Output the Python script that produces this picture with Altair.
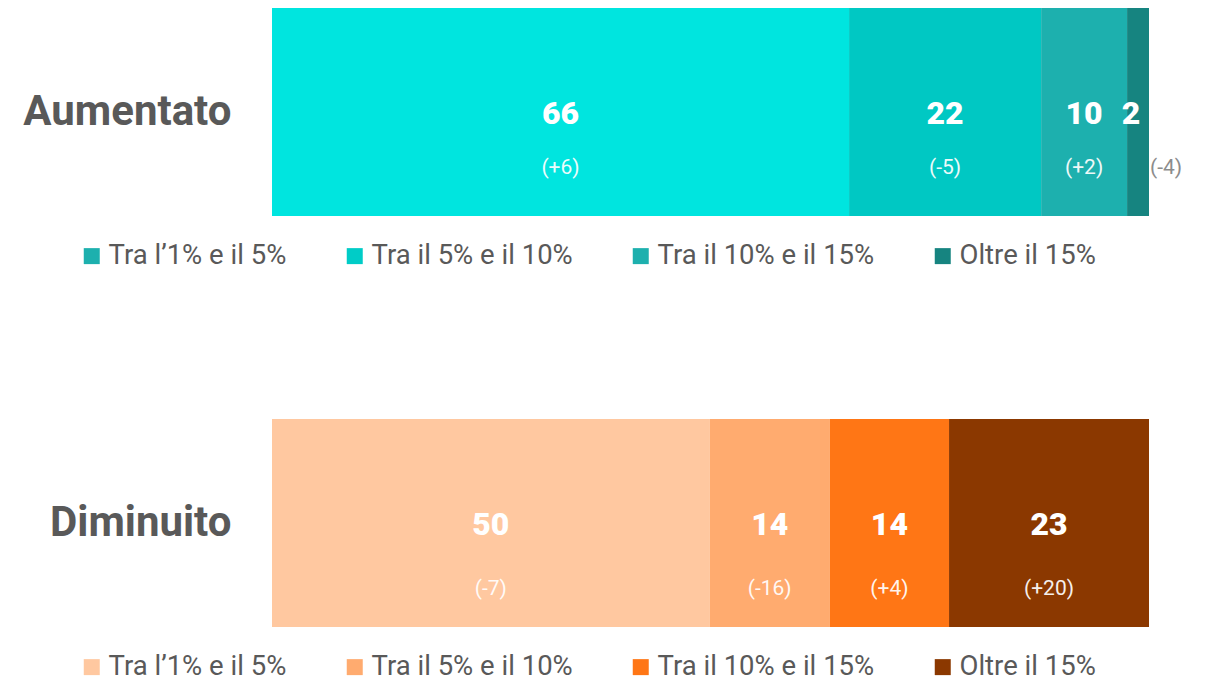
import altair as alt
import pandas as pd

rows = ["Aumentato", "Diminuito"]
categories = ["Tra l’1% e il 5%", "Tra il 5% e il 10%", "Tra il 10% e il 15%", "Oltre il 15%"]
# shown (rounded) labels
top_values = [66, 22, 10, 2]
bottom_values = [50, 14, 14, 23]
# underlying shares
top_shares = [65.8, 21.9, 9.8, 2.5]
bottom_shares = [49.9, 13.7, 13.6, 22.8]
top_deltas = ["(+6)", "(-5)", "(+2)", "(-4)"]
bottom_deltas = ["(-7)", "(-16)", "(+4)", "(+20)"]

top_bar_colors = ["#00E5DF", "#00C8C3", "#1DB0AE", "#168480"]
top_legend_colors = ["#1DB0AE", "#00CCC7", "#1DB0AE", "#168480"]
bottom_colors = ["#FFC8A0", "#FFAB6F", "#FF7615", "#8B3800"]

FONT = "Roboto"
GREY = "#595959"


def make(row, values, shares, deltas, bar_colors, legend_colors, delta_dy):
    df = pd.DataFrame({
        "row": [row] * len(categories),
        "cat": categories,
        "order": list(range(len(categories))),
        "value": values,
        "share": shares,
        "delta": deltas,
    })
    base = alt.Chart(df).transform_stack(
        stack="share", groupby=["row"],
        sort=[alt.SortField(field="order", order="ascending")],
        offset="normalize", as_=["x0", "x1"],
    ).transform_calculate(mid="(datum.x0 + datum.x1) / 2")

    xs = alt.Scale(domain=[0, 1], nice=False, zero=False)
    y = alt.Y("row:N", title=None,
              scale=alt.Scale(paddingInner=0, paddingOuter=0),
              axis=alt.Axis(domain=False, ticks=False, labelFont=FONT,
                            labelFontSize=42, labelFontWeight="bold",
                            labelColor=GREY, labelPadding=41, labelLimit=400))

    bars = base.mark_bar().encode(
        x=alt.X("x0:Q", scale=xs, axis=None),
        x2="x1:Q",
        y=y,
        color=alt.Color("order:O", scale=alt.Scale(domain=[0, 1, 2, 3], range=bar_colors), legend=None),
    )
    big = base.transform_filter("datum.value >= 5")
    small = base.transform_filter("datum.value < 5")

    nums = big.mark_text(font=FONT, fontSize=32, fontWeight=900, color="white", dy=2).encode(
        x=alt.X("mid:Q", scale=xs), y=y, text="value:Q")
    dels = big.mark_text(font=FONT, fontSize=21, color="white", opacity=0.92, dy=delta_dy).encode(
        x=alt.X("mid:Q", scale=xs), y=y, text="delta:N")
    nums_s = small.mark_text(font=FONT, fontSize=32, fontWeight=900, color="white", dy=2, dx=-7).encode(
        x=alt.X("mid:Q", scale=xs), y=y, text="value:Q")
    dels_s = small.mark_text(font=FONT, fontSize=21, color="#8C8C8C", dy=delta_dy, dx=28).encode(
        x=alt.X("mid:Q", scale=xs), y=y, text="delta:N")

    leg = base.mark_point(opacity=0, size=1, filled=True).encode(
        x=alt.X("mid:Q", scale=xs), y=y,
        fill=alt.Fill("cat:N", scale=alt.Scale(domain=categories, range=legend_colors),
                      legend=alt.Legend(orient="none", legendX=-194, legendY=234,
                                        direction="horizontal", title=None,
                                        symbolType="square", symbolSize=256,
                                        symbolOpacity=1, symbolStrokeWidth=0,
                                        labelFont=FONT, labelFontSize=27.5,
                                        labelColor=GREY, labelOffset=3,
                                        columnPadding=54, labelLimit=400)),
    )
    return alt.layer(bars, nums, dels, nums_s, dels_s, leg).properties(width=877, height=208)


top = make(rows[0], top_values, top_shares, top_deltas, top_bar_colors, top_legend_colors, 56)
bottom = make(rows[1], bottom_values, bottom_shares, bottom_deltas, bottom_colors, bottom_colors, 66)

chart = alt.vconcat(top, bottom, spacing=203, bounds="flush").resolve_scale(
    color="independent", fill="independent", y="independent"
).resolve_legend(fill="independent").properties(
    padding={"left": 14, "top": 0, "right": 5, "bottom": 0}
).configure_view(stroke=None)

chart.save("out.html", embed_options={"renderer": "svg", "actions": False})
